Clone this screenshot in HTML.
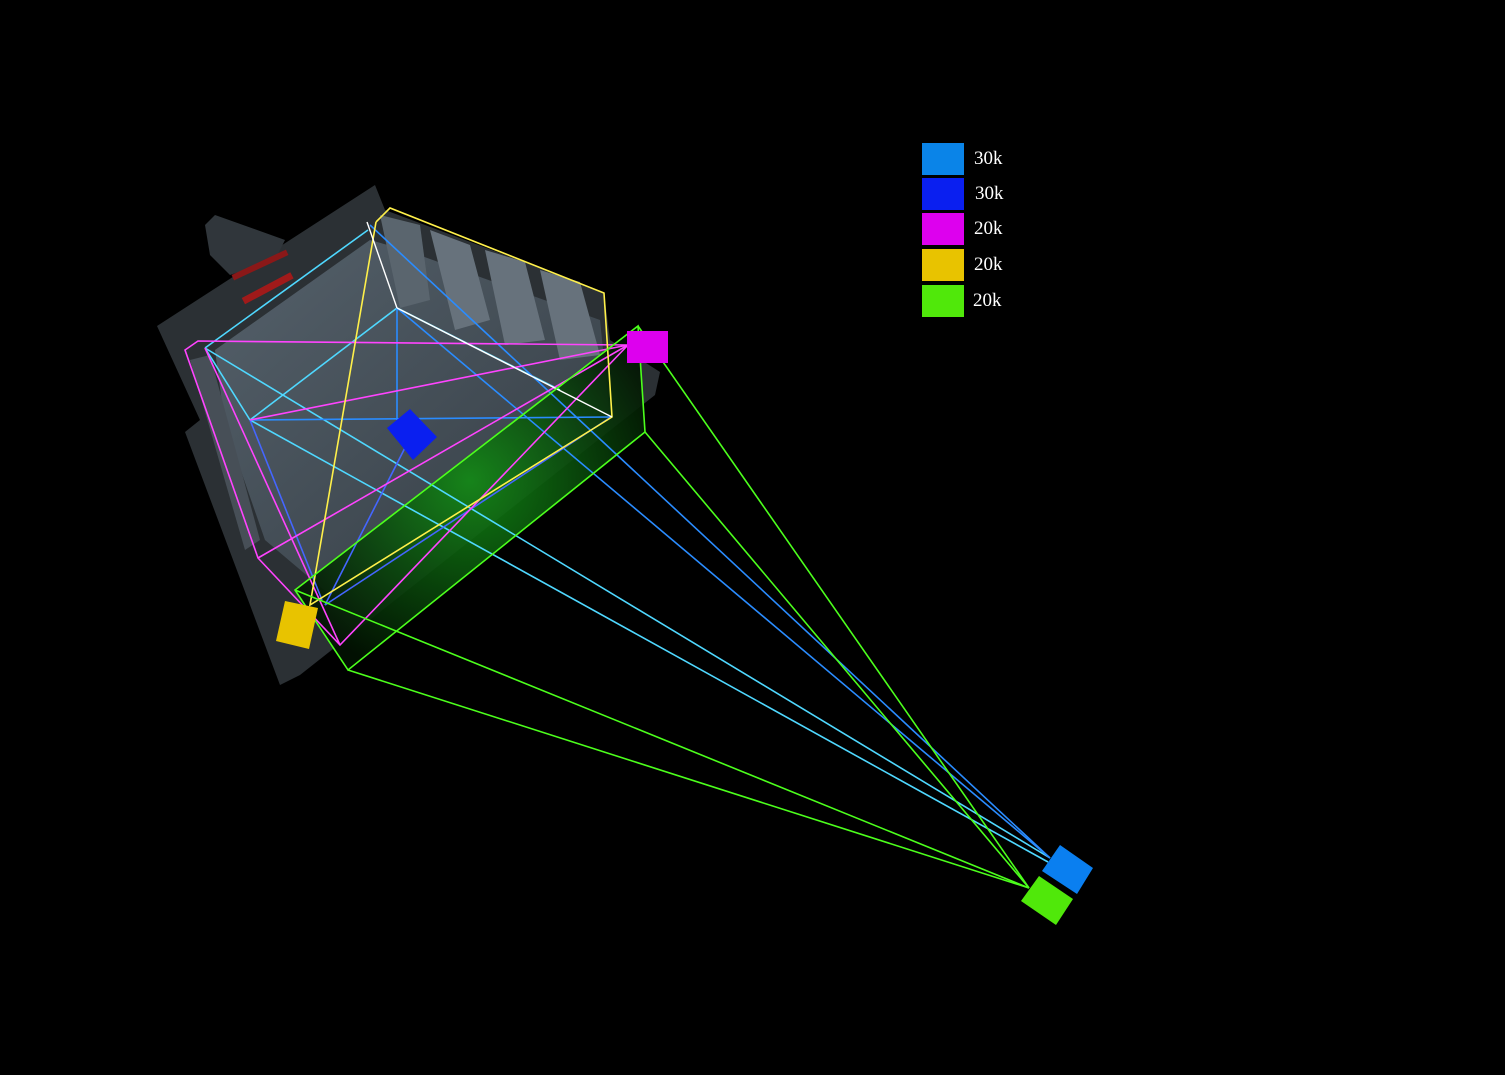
<!DOCTYPE html>
<html><head><meta charset="utf-8"><style>
html,body{margin:0;padding:0;background:#000;}
svg{display:block}
</style></head><body>
<svg width="1505" height="1075" viewBox="0 0 1505 1075" xmlns="http://www.w3.org/2000/svg">
<defs>
<linearGradient id="fl" x1="0" y1="0" x2="1" y2="1">
<stop offset="0" stop-color="#55616b"/><stop offset="1" stop-color="#333b42"/>
</linearGradient>
<radialGradient id="gr" cx="0.5" cy="0.45" r="0.6">
<stop offset="0" stop-color="#128a14"/><stop offset="0.5" stop-color="#0a4d0c"/><stop offset="1" stop-color="#021202"/>
</radialGradient>
</defs>
<rect width="1505" height="1075" fill="#000"/>
<polygon points="157,326 375,185 385,210 604,292 610,340 660,372 655,395 300,675 280,685 185,432 200,420" fill="#2b3034"/>
<polygon points="205,225 215,215 285,240 275,260 230,275 210,255" fill="#30363b"/>
<rect x="230" y="262" width="60" height="6" fill="#8a1818" transform="rotate(-25 260 265)"/>
<rect x="240" y="285" width="55" height="7" fill="#a01a1a" transform="rotate(-28 267 288)"/>
<polygon points="215,350 370,240 405,250 600,320 610,418 330,595 265,540 225,425" fill="url(#fl)"/>
<polygon points="430,230 470,245 490,320 455,330" fill="#67727c"/>
<polygon points="485,250 525,262 545,340 505,345" fill="#67727c"/>
<polygon points="540,270 580,282 600,355 560,360" fill="#67727c"/>
<polygon points="380,215 420,225 430,300 400,308" fill="#5a656e"/>
<polygon points="190,360 210,355 260,540 245,550" fill="#474f57"/>
<polygon points="295,590 638,326 645,432 348,670" fill="url(#gr)" opacity="0.9"/>
<g fill="none" stroke-width="1.6">
<g stroke="#4fd8ff">
<polyline points="205,348 368,230"/>
<polyline points="397,308 250,420"/>
<polyline points="397,308 560,390"/>
<line x1="205" y1="348" x2="1050" y2="858"/>
<line x1="250" y1="420" x2="1048" y2="862"/>
<line x1="205" y1="348" x2="250" y2="420"/>
</g>
<g stroke="#2a8cff">
<line x1="370" y1="225" x2="1050" y2="858"/>
<line x1="397" y1="308" x2="1050" y2="858"/>
<line x1="250" y1="420" x2="611" y2="417"/>
<line x1="397" y1="308" x2="397" y2="420"/>
</g>
<g stroke="#4466ff">
<line x1="412" y1="434" x2="325" y2="605"/>
<line x1="611" y1="417" x2="325" y2="605"/>
<line x1="250" y1="420" x2="322" y2="600"/>
</g>
<g stroke="#ff44ff">
<polyline points="628,345 198,341 185,350 258,558 340,645 628,345"/>
<line x1="628" y1="345" x2="250" y2="420"/>
<line x1="628" y1="345" x2="258" y2="558"/>
<line x1="205" y1="348" x2="340" y2="645"/>
</g>
<g stroke="#fff04a">
<polyline points="376,222 390,208 604,293 612,417 310,605 376,222"/>
</g>
<g stroke="#ffffff" stroke-width="1.4">
<line x1="367" y1="222" x2="397" y2="308"/>
<line x1="397" y1="308" x2="612" y2="417"/>
</g>
<g stroke="#4cff1c">
<polygon points="295,590 638,326 645,432 348,670"/>
<line x1="638" y1="326" x2="1029" y2="888"/>
<line x1="645" y1="432" x2="1029" y2="888"/>
<line x1="348" y1="670" x2="1029" y2="888"/>
<line x1="295" y1="590" x2="1029" y2="888"/>
</g>
</g>
<polygon points="1060,845 1093,868 1077,894 1042,871" fill="#0a7ff0"/>
<polygon points="1039,876 1073,899 1056,925 1021,901" fill="#50e80a"/>
<rect x="627" y="331" width="41" height="32" fill="#dd00ee"/>
<polygon points="285,601 318,608 309,649 276,641" fill="#e8c300"/>
<polygon points="387,428 410,409 437,437 413,460" fill="#0a1ff0"/>
<rect x="922" y="143" width="42" height="32" fill="#0a84e8"/>
<rect x="922" y="178" width="42" height="32" fill="#0a1ff0"/>
<rect x="922" y="213" width="42" height="32" fill="#dd00ee"/>
<rect x="922" y="249" width="42" height="32" fill="#e8c300"/>
<rect x="922" y="285" width="42" height="32" fill="#50e80a"/>
<g fill="#fff" font-family="Liberation Serif, serif" font-size="19">
<text x="974" y="164">30k</text>
<text x="975" y="199">30k</text>
<text x="974" y="234">20k</text>
<text x="974" y="270">20k</text>
<text x="973" y="306">20k</text>
</g>
</svg>
</body></html>
